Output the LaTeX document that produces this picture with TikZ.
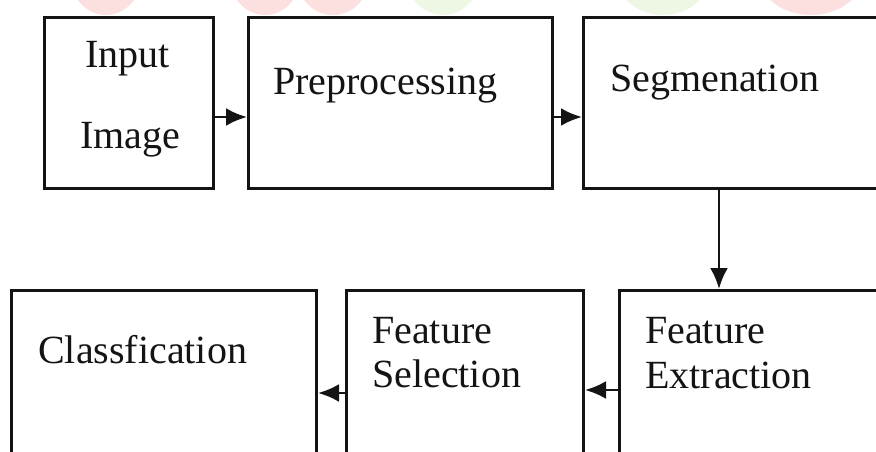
\documentclass[tikz,border=0pt]{standalone}
\usepackage{fontspec}
\setmainfont{Liberation Serif}
\usetikzlibrary{arrows.meta}
\definecolor{wmred}{RGB}{252,224,224}
\definecolor{wmgreen}{RGB}{238,247,228}
\definecolor{ink}{RGB}{20,20,20}
\begin{document}
\begin{tikzpicture}[x=1pt,y=-1pt,
  box/.style={draw=ink,line width=3pt,fill=none,rectangle,inner sep=0pt,anchor=north west},
  lbl/.style={inner sep=0pt,anchor=base west,text=ink,font=\fontsize{40}{45}\selectfont},
  arr/.style={draw=ink,line width=2.8pt,-{Latex[length=21pt,width=18pt]}}]
\useasboundingbox (0,0) rectangle (876,452);
\clip (0,0) rectangle (876,452);
\fill[white] (0,0) rectangle (876,452);
% faint watermark fragments
\fill[wmred] (106,-25) ellipse [x radius=36, y radius=40];
\fill[wmred] (265,-25) ellipse [x radius=36, y radius=40];
\fill[wmred] (333,-25) ellipse [x radius=37, y radius=40];
\fill[wmgreen] (443,-25) ellipse [x radius=37, y radius=40];
\fill[wmgreen] (663,-25) ellipse [x radius=47, y radius=40];
\fill[wmred] (811,-25) ellipse [x radius=52, y radius=40];
% boxes
\node[box,minimum width=169pt,minimum height=171pt] (in) at (43,16) {};
\node[box,minimum width=304pt,minimum height=171pt] (pre) at (247,16) {};
\node[box,minimum width=320pt,minimum height=171pt] (seg) at (582,16) {};
\node[box,minimum width=305pt,minimum height=190pt] (cls) at (10,289) {};
\node[box,minimum width=237pt,minimum height=190pt] (fs) at (345,289) {};
\node[box,minimum width=290pt,minimum height=190pt] (fe) at (618,289) {};
% labels
\node[lbl] (tin1) at (85,67) {Input};
\node[lbl] (tin2) at (80,148) {Image};
\node[lbl] (tpre) at (273,95) {Preprocessing};
\node[lbl] (tseg) at (610,92) {Segmenation};
\node[lbl] (tcls) at (38,363) {Classfication};
\node[lbl] (tfs1) at (372,343) {Feature};
\node[lbl] (tfs2) at (372,387) {Selection};
\node[lbl] (tfe1) at (645,343) {Feature};
\node[lbl] (tfe2) at (645,388) {Extraction};
% connectors
\draw[arr] ([yshift=-101pt]in.north east) -- ([yshift=-101pt]pre.north west);
\draw[arr] ([yshift=-101pt]pre.north east) -- ([yshift=-101pt]seg.north west);
\draw[arr] ([xshift=137pt]seg.south west) -- ([xshift=101pt]fe.north west);
\draw[arr] ([yshift=-101pt]fe.north west) -- ([yshift=-101pt]fs.north east);
\draw[arr] ([yshift=-104pt]fs.north west) -- ([yshift=-104pt]cls.north east);
\end{tikzpicture}
\end{document}
